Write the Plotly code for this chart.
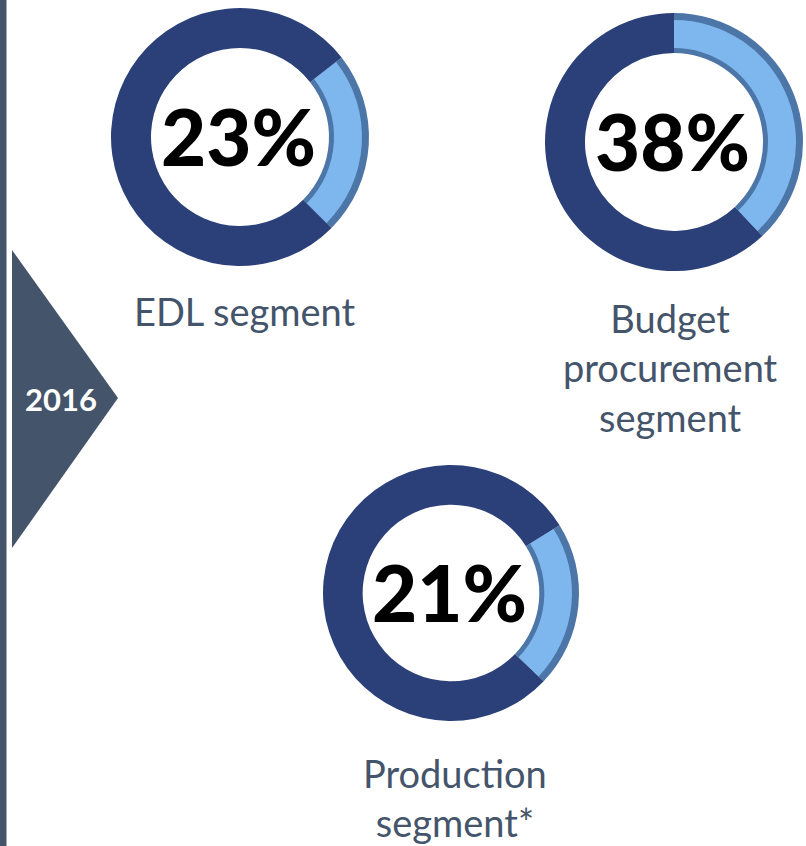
import plotly.graph_objects as go

W, H = 806, 846

# --- DATA ---
year = "2016"
segments = ["EDL segment", "Budget<br>procurement<br>segment", "Production<br>segment*"]
shares = [23, 38, 21]
# ------------

# ring placement in pixels: centre x, centre y, outer radius, start angle (deg, clockwise from 12)
rings = [(240, 137, 129, 52), (674, 142, 129, 0), (451, 593, 128, 58)]
label_pos = [(244, 311), (670, 368), (455, 797)]

DARK = "#2B4078"
LIGHT = "#7DB7EE"
EDGE = "#4C76A8"
SLATE = "#44546A"
FONT = "Lato"


def px(x):
    return x / W


def py(y):
    return 1 - y / H


def domain(cx, cy, r):
    return dict(x=[px(cx - r), px(cx + r)], y=[py(cy + r), py(cy - r)])


fig = go.Figure()

for share, (cx, cy, r, rot) in zip(shares, rings):
    inner = 0.69 * r
    # base ring
    fig.add_trace(go.Pie(
        values=[share, 100 - share], hole=0.69, sort=False,
        direction='clockwise', rotation=rot,
        marker=dict(colors=[EDGE, DARK], line=dict(width=0)),
        textinfo='none', hoverinfo='skip', showlegend=False,
        domain=domain(cx, cy, r)
    ))
    # lighter band on the highlighted slice (bevel look)
    r2 = r - 7
    fig.add_trace(go.Pie(
        values=[share, 100 - share], hole=(inner + 5) / r2, sort=False,
        direction='clockwise', rotation=rot,
        marker=dict(colors=[LIGHT, 'rgba(0,0,0,0)'], line=dict(width=0)),
        textinfo='none', hoverinfo='skip', showlegend=False,
        domain=domain(cx, cy, r2)
    ))

    fig.add_annotation(
        x=px(cx - 2), y=py(cy - 1), xref='paper', yref='paper',
        text=f"{share}%", showarrow=False,
        font=dict(family=FONT, size=78, color='black', weight=900),
        xanchor='center', yanchor='middle'
    )

for name, (lx, ly) in zip(segments, label_pos):
    fig.add_annotation(
        x=px(lx), y=py(ly), xref='paper', yref='paper',
        text=name, showarrow=False,
        font=dict(family=FONT, size=38, color=SLATE),
        xanchor='center', yanchor='middle', align='center'
    )

# left rule and year chevron
fig.add_shape(type='rect', xref='paper', yref='paper',
              x0=0, x1=px(6.5), y0=0, y1=1,
              fillcolor=SLATE, line=dict(width=0))
fig.add_shape(type='path', xref='paper', yref='paper',
              path=f"M {px(12)},{py(250)} L {px(118)},{py(398)} L {px(12)},{py(548)} Z",
              fillcolor=SLATE, line=dict(width=0))
fig.add_annotation(
    x=px(61), y=py(399), xref='paper', yref='paper',
    text=f"<b>{year}</b>", showarrow=False,
    font=dict(family=FONT, size=31, color='white'),
    xanchor='center', yanchor='middle'
)

fig.update_layout(
    width=W, height=H,
    margin=dict(l=0, r=0, t=0, b=0),
    paper_bgcolor='white', plot_bgcolor='white',
    showlegend=False
)

# drop the browser's default body margin so the figure fills the window
fig.write_html("out.html", config={'displayModeBar': False},
               post_script="document.body.style.margin='0';")
